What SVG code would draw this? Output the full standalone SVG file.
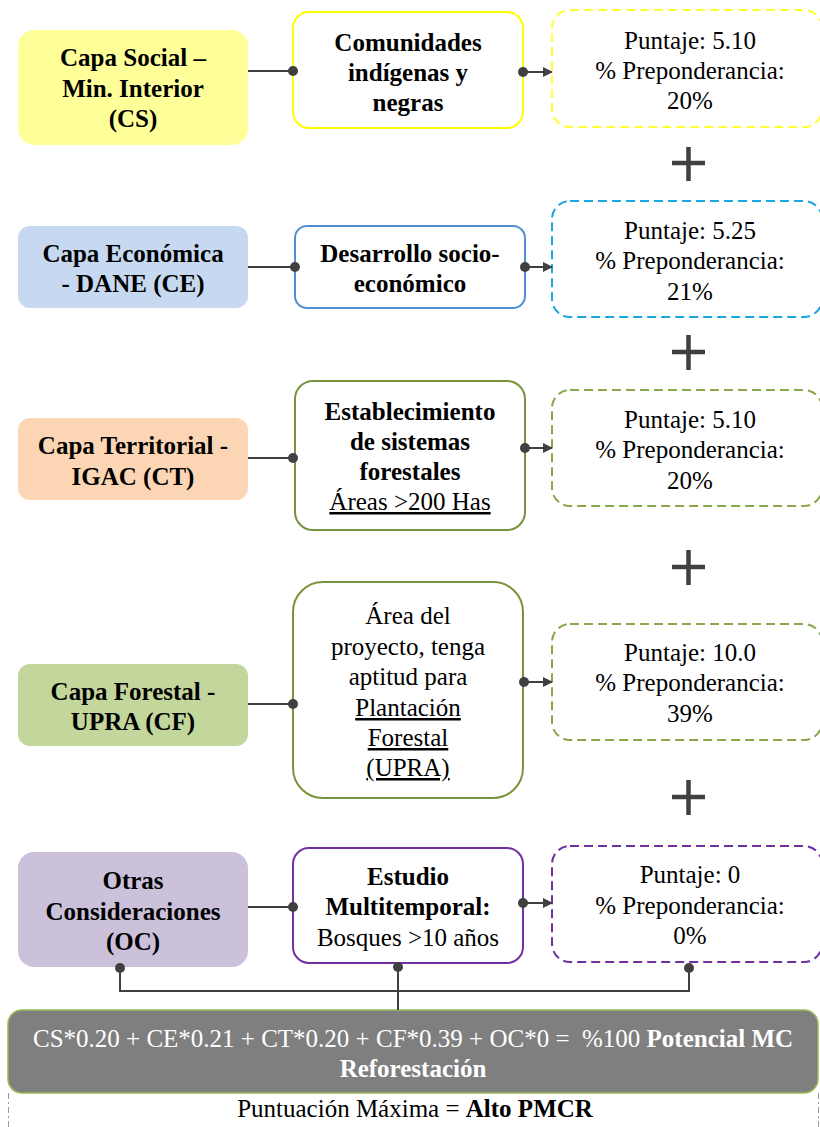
<svg xmlns="http://www.w3.org/2000/svg" width="820" height="1127" viewBox="0 0 820 1127" font-family="Liberation Serif" font-size="25">
  <style>
    text { fill: #000; text-anchor: middle; }
    .b { font-weight: bold; }
    .u { text-decoration: underline; }
    .w { fill: #fff; }
    .layer { stroke: none; }
    .mid { fill: #fff; stroke-width: 2; }
    .score { fill: #fff; stroke-width: 2; stroke-dasharray: 9 5; }
    .link { stroke: #404040; stroke-width: 2; fill: none; }
    .plus { stroke: #404040; stroke-width: 4.5; }
    .dot { fill: #404040; }
  </style>
  <defs>
    <marker id="arr" viewBox="0 0 10 10" refX="9" refY="5" markerWidth="5" markerHeight="5" orient="auto">
      <path d="M0,0 L10,5 L0,10 z" fill="#404040"/>
    </marker>
  </defs>

  <!-- Row 1: social layer -->
  <g id="cs">
    <rect class="layer" x="18" y="30" width="230" height="115" rx="16" fill="#ffff99"/>
    <text class="b" x="133" y="66">Capa Social –</text>
    <text class="b" x="133" y="97">Min. Interior</text>
    <text class="b" x="133" y="127">(CS)</text>
  </g>
  <g id="cs-criterio">
    <rect class="mid" x="293" y="12" width="230" height="116" rx="16" stroke="#ffff00"/>
    <text class="b" x="408" y="51">Comunidades</text>
    <text class="b" x="408" y="81">indígenas y</text>
    <text class="b" x="408" y="111">negras</text>
  </g>
  <g id="cs-puntaje">
    <rect class="score" x="552" y="10" width="270" height="117" rx="18" stroke="#ffff33"/>
    <text x="690" y="49">Puntaje: 5.10</text>
    <text x="690" y="79">% Preponderancia:</text>
    <text x="690" y="109">20%</text>
  </g>

  <!-- Row 2: economic layer -->
  <g id="ce">
    <rect class="layer" x="18" y="226" width="230" height="82" rx="12" fill="#c6d9f1"/>
    <text class="b" x="133" y="262">Capa Económica</text>
    <text class="b" x="133" y="292">- DANE (CE)</text>
  </g>
  <g id="ce-criterio">
    <rect class="mid" x="295" y="226" width="230" height="82" rx="12" stroke="#4f8fd6"/>
    <text class="b" x="410" y="262">Desarrollo socio-</text>
    <text class="b" x="410" y="292">económico</text>
  </g>
  <g id="ce-puntaje">
    <rect class="score" x="552" y="201" width="270" height="116" rx="18" stroke="#1ea6e0"/>
    <text x="690" y="239">Puntaje: 5.25</text>
    <text x="690" y="269">% Preponderancia:</text>
    <text x="690" y="300">21%</text>
  </g>

  <!-- Row 3: territorial layer -->
  <g id="ct">
    <rect class="layer" x="18" y="418" width="230" height="82" rx="12" fill="#fcd5b5"/>
    <text class="b" x="133" y="454">Capa Territorial -</text>
    <text class="b" x="133" y="485">IGAC (CT)</text>
  </g>
  <g id="ct-criterio">
    <rect class="mid" x="295" y="381" width="230" height="149" rx="18" stroke="#77933c"/>
    <text class="b" x="410" y="420">Establecimiento</text>
    <text class="b" x="410" y="450">de sistemas</text>
    <text class="b" x="410" y="480">forestales</text>
    <text class="u" x="410" y="510">Áreas &gt;200 Has</text>
  </g>
  <g id="ct-puntaje">
    <rect class="score" x="552" y="390" width="270" height="116" rx="18" stroke="#8aa74e"/>
    <text x="690" y="428">Puntaje: 5.10</text>
    <text x="690" y="458">% Preponderancia:</text>
    <text x="690" y="489">20%</text>
  </g>

  <!-- Row 4: forestry layer -->
  <g id="cf">
    <rect class="layer" x="18" y="664" width="230" height="82" rx="12" fill="#c3d69b"/>
    <text class="b" x="133" y="700">Capa Forestal -</text>
    <text class="b" x="133" y="730">UPRA (CF)</text>
  </g>
  <g id="cf-criterio">
    <rect class="mid" x="293" y="582" width="230" height="216" rx="30" stroke="#77933c"/>
    <text x="408" y="624">Área del</text>
    <text x="408" y="655">proyecto, tenga</text>
    <text x="408" y="685">aptitud para</text>
    <text class="u" x="408" y="716">Plantación</text>
    <text class="u" x="408" y="746">Forestal</text>
    <text class="u" x="408" y="776">(UPRA)</text>
  </g>
  <g id="cf-puntaje">
    <rect class="score" x="552" y="624" width="270" height="116" rx="18" stroke="#8aa74e"/>
    <text x="690" y="661">Puntaje: 10.0</text>
    <text x="690" y="691">% Preponderancia:</text>
    <text x="690" y="722">39%</text>
  </g>

  <!-- Row 5: other considerations -->
  <g id="oc">
    <rect class="layer" x="18" y="852" width="230" height="115" rx="16" fill="#ccc1da"/>
    <text class="b" x="133" y="889">Otras</text>
    <text class="b" x="133" y="920">Consideraciones</text>
    <text class="b" x="133" y="950">(OC)</text>
  </g>
  <g id="oc-criterio">
    <rect class="mid" x="293" y="848" width="230" height="115" rx="16" stroke="#7030a0"/>
    <text class="b" x="408" y="885">Estudio</text>
    <text class="b" x="408" y="915">Multitemporal:</text>
    <text x="408" y="946">Bosques &gt;10 años</text>
  </g>
  <g id="oc-puntaje">
    <rect class="score" x="552" y="846" width="270" height="116" rx="18" stroke="#7030a0"/>
    <text x="690" y="883">Puntaje: 0</text>
    <text x="690" y="914">% Preponderancia:</text>
    <text x="690" y="944">0%</text>
  </g>

  <!-- Result -->
  <g id="resultado">
    <path d="M8.5,1093 V1127 M818.5,1093 V1127" stroke="#999" stroke-width="1" stroke-dasharray="6 3 2 3"/>
    <rect x="8" y="1010" width="810" height="83" rx="14" fill="#7f7f7f" stroke="#9bbb59" stroke-width="1.5"/>
    <text class="w" x="413" y="1047" xml:space="preserve">CS*0.20 + CE*0.21 + CT*0.20 + CF*0.39 + OC*0 =  %100 <tspan class="b w">Potencial MC</tspan></text>
    <text class="b w" x="413" y="1077">Reforestación</text>
    <text x="415" y="1117">Puntuación Máxima = <tspan class="b">Alto PMCR</tspan></text>
  </g>

  <!-- Plus signs between scores -->
  <g id="sumas">
    <path class="plus" d="M672,163 H705 M688.5,147 V181"/>
    <path class="plus" d="M672,352 H705 M688.5,335 V370"/>
    <path class="plus" d="M672,567 H705 M688.5,550 V585"/>
    <path class="plus" d="M672,797 H705 M688.5,780 V815"/>
  </g>

  <!-- Connectors -->
  <g id="conectores">
    <path class="link" d="M248,71 H293"/>
    <circle class="dot" cx="293" cy="71" r="5"/>
    <circle class="dot" cx="523" cy="72" r="5"/>
    <path class="link" d="M523,72 H552" marker-end="url(#arr)"/>

    <path class="link" d="M248,267 H295"/>
    <circle class="dot" cx="295" cy="267" r="5"/>
    <circle class="dot" cx="525" cy="267" r="5"/>
    <path class="link" d="M525,267 H552" marker-end="url(#arr)"/>

    <path class="link" d="M248,458 H293"/>
    <circle class="dot" cx="293" cy="458" r="5"/>
    <circle class="dot" cx="525" cy="448" r="5"/>
    <path class="link" d="M525,448 H552" marker-end="url(#arr)"/>

    <path class="link" d="M248,704 H293"/>
    <circle class="dot" cx="293" cy="704" r="5"/>
    <circle class="dot" cx="524" cy="682" r="5"/>
    <path class="link" d="M524,682 H552" marker-end="url(#arr)"/>

    <path class="link" d="M248,907 H293"/>
    <circle class="dot" cx="293" cy="907" r="5"/>
    <circle class="dot" cx="523" cy="903" r="5"/>
    <path class="link" d="M523,903 H552" marker-end="url(#arr)"/>

    <path class="link" d="M120,968 V991 H689 V968 M398,967 V1010"/>
    <circle class="dot" cx="120" cy="968" r="5"/>
    <circle class="dot" cx="398" cy="967" r="5"/>
    <circle class="dot" cx="689" cy="968" r="5"/>
  </g>
</svg>
